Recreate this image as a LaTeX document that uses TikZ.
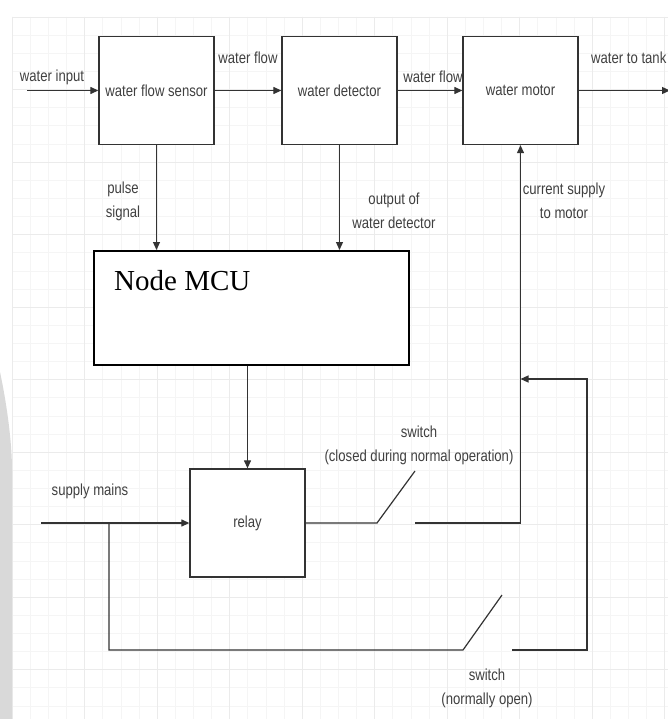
\documentclass[tikz,border=0pt]{standalone}
\usepackage{fontspec}
\setmainfont{Liberation Serif}
\newfontfamily\lblfont[FakeStretch=0.82]{Liberation Sans}
\usetikzlibrary{arrows.meta}
\begin{document}
\begin{tikzpicture}[x=1pt,y=-1pt,
  box/.style={draw=black!80, line width=1.3pt, fill=white, minimum width=115pt, minimum height=108pt, inner sep=0pt, font=\lblfont\fontsize{16}{24}\selectfont, text=black!75},
  mcubox/.style={draw=black, line width=1.6pt, fill=white, minimum width=315pt, minimum height=114pt, inner sep=0pt},
  wire/.style={draw=black!80, line width=1.2pt},
  arr/.style={wire, -{Triangle[length=8pt,width=7pt]}},
  lbl/.style={font=\lblfont\fontsize{16}{24}\selectfont, text=black!75, align=center, inner sep=0pt},
  minorgrid/.style={draw=black!4, line width=0.5pt},
  majorgrid/.style={draw=black!8, line width=0.7pt}
]
\useasboundingbox (0,0) rectangle (668,719);
\clip (0,0) rectangle (668,719);
\fill[white] (0,0) rectangle (668,719);
% background grid
\foreach \i in {0,...,36} {
  \draw[minorgrid] ({12+18.125*\i},17) -- ({12+18.125*\i},719);
}
\foreach \i in {0,...,38} {
  \draw[minorgrid] (12,{17+18.125*\i}) -- (668,{17+18.125*\i});
}
\foreach \i in {0,...,9} {
  \draw[majorgrid] ({12+72.5*\i},17) -- ({12+72.5*\i},719);
  \draw[majorgrid] (12,{17+72.5*\i}) -- (668,{17+72.5*\i});
}
% watermark edge
\fill[black!15] (0,372) .. controls (6,400) and (12,440) .. (12,470) -- (12,719) -- (0,719) -- cycle;

% blocks
\node[box] (sensor) at (156.5,90.5) {water flow sensor};
\node[box] (detector) at (339.5,90.5) {water detector};
\node[box] (motor) at (520.5,90.5) {water motor};
\node[mcubox, anchor=north west] (mcu) at (93,250) {};
\node[anchor=west, inner sep=0pt, font=\fontsize{29}{30}\selectfont] (mcutext) at (114,281) {Node MCU};
\node[box] (relay) at (247.5,523) {relay};

% free ends
\coordinate (win) at (27,90.5);
\coordinate (tank) at (670,90.5);
\coordinate (mains) at (41,523);
\coordinate (j1) at (109,523);
\coordinate (b1) at (109,650);
\coordinate (sw2a) at (463,650);
\coordinate (sw2t) at (502,595);
\coordinate (sw2b) at (512,650);
\coordinate (c2) at (587,650);
\coordinate (c3) at (587,379);
\coordinate (sw1a) at (377,523);
\coordinate (sw1t) at (415,471);
\coordinate (sw1b) at (415,523);
\coordinate (c1) at (520.5,523);
\coordinate (c4) at (520.5,379);

% connectors
\draw[arr] (win) -- (sensor.west);
\draw[arr] (sensor.east) -- (detector.west);
\draw[arr] (detector.east) -- (motor.west);
\draw[arr] (motor.east) -- (tank);
\draw[arr] (sensor.south) -- (sensor.south |- mcu.north);
\draw[arr] (detector.south) -- (detector.south |- mcu.north);
\draw[arr] (relay.north |- mcu.south) -- (relay.north);
\draw[arr] (mains) -- (relay.west);
\draw[wire] (j1) -- (b1) -- (sw2a) -- (sw2t);
\draw[arr] (sw2b) -- (c2) -- (c3) -- (c4);
\draw[wire] (relay.east) -- (sw1a) -- (sw1t);
\draw[arr] (sw1b) -- (c1) -- (motor.south);

% labels
\node[lbl] (lwin) at (52,77) {water input};
\node[lbl] (lflow1) at (248,58) {water flow};
\node[lbl] (lflow2) at (433,77) {water flow};
\node[lbl, anchor=west] (ltank) at (591,58) {water to tank};
\node[lbl] (lpulse) at (123,201.5) {pulse\\signal};
\node[lbl] (lout) at (394,210.5) {output of\\water detector};
\node[lbl] (lcur) at (564,201) {current supply\\to motor};
\node[lbl] (lsw1) at (419,445.5) {switch\\(closed during normal operation)};
\node[lbl] (lmains) at (90,491) {supply mains};
\node[lbl] (lsw2) at (487,688) {switch\\(normally open)};
\end{tikzpicture}
\end{document}
